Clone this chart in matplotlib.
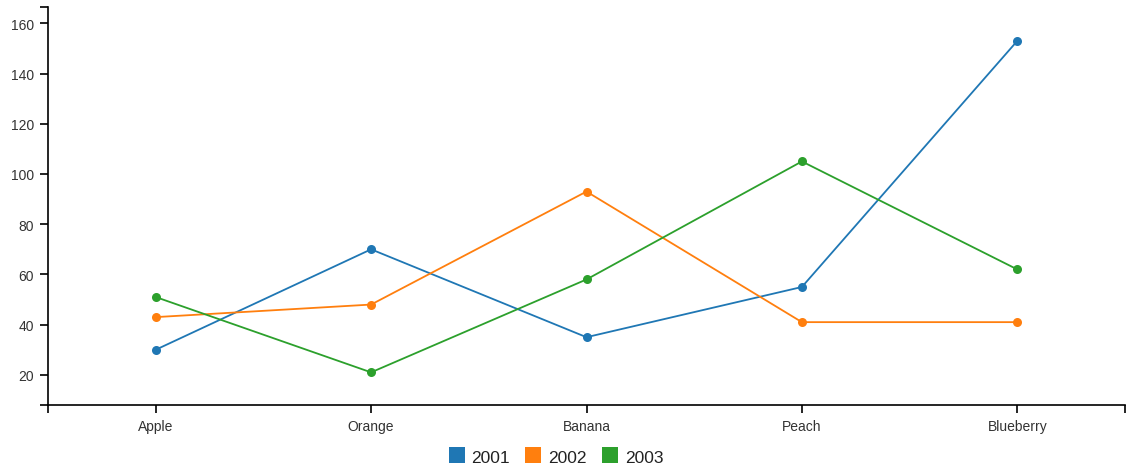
import matplotlib.pyplot as plt
from matplotlib.lines import Line2D

plt.rcParams["font.family"] = ["Liberation Sans", "DejaVu Sans"]

categories = ["Apple", "Orange", "Banana", "Peach", "Blueberry"]
years = ["2001", "2002", "2003"]
values_2001 = [30, 70, 35, 55, 153]
values_2002 = [43, 48, 93, 41, 41]
values_2003 = [51, 21, 58, 105, 62]
series = [values_2001, values_2002, values_2003]
colors = ["#1f77b4", "#ff7f0e", "#2ca02c"]

W, H = 1144, 477
fig = plt.figure(figsize=(W / 100, H / 100), dpi=100)
ax = fig.add_axes([48 / W, (H - 406) / H, (1125 - 48) / W, (406 - 8) / H])

x = list(range(len(categories)))
for vals, c in zip(series, colors):
    ax.plot(x, vals, color=c, lw=1.3, marker="o", markersize=6.5,
            markeredgewidth=0, zorder=3)

ax.set_xlim(-0.5, len(categories) - 0.5)
ax.set_ylim(8, 166.5)
ax.set_xticks(x)
ax.set_xticklabels(categories)
ax.set_yticks(range(20, 161, 20))
# outer ticks at the ends of the domain
ax.set_xticks([-0.5, len(categories) - 0.5], minor=True)
ax.set_yticks([8, 166.5], minor=True)

for s in ["top", "right"]:
    ax.spines[s].set_visible(False)
for s in ["left", "bottom"]:
    ax.spines[s].set_linewidth(1.2)

ax.tick_params(which="both", length=6, width=1.2, color="black",
               labelsize=10, labelcolor="#333333", pad=4)

handles = [Line2D([], [], ls="none", marker="s", markersize=11,
                  markerfacecolor=c, markeredgewidth=0) for c in colors]
fig.legend(handles, years, loc="center", ncol=3,
           bbox_to_anchor=(556 / W, 1 - 458 / H), frameon=False,
           fontsize=12.5, handlelength=0.9, handletextpad=0.4,
           columnspacing=0.9, labelcolor="#222222")

fig.savefig("out.png", dpi=100)
